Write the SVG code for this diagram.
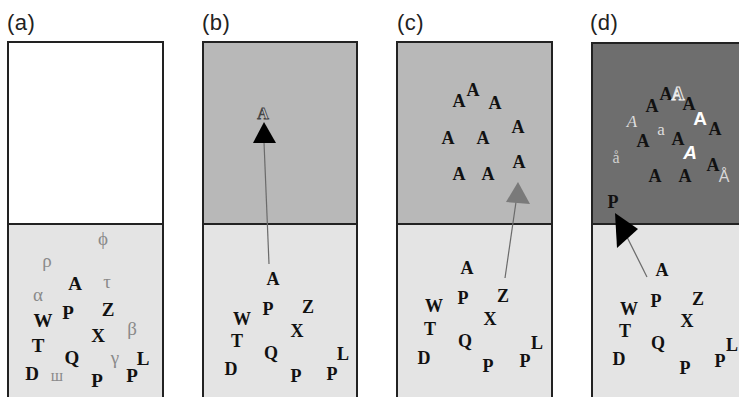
<svg xmlns="http://www.w3.org/2000/svg" width="739" height="397" viewBox="0 0 739 397">
<style>
.lbl{font-family:"Liberation Sans",Arial,sans-serif;font-size:22px;fill:#222;letter-spacing:0.5px}
.box{stroke:#222;stroke-width:2}
.b{font-family:"Liberation Serif","Times New Roman",serif;font-weight:bold;font-size:18px;fill:#111;text-anchor:middle}
.ba{font-size:19px}
.g{font-family:"Liberation Serif","Times New Roman",serif;font-size:19px;fill:#8a8a8a;text-anchor:middle}
.conn{stroke:#6a6a6a;stroke-width:1.2;fill:none}
</style>
<rect width="739" height="397" fill="#ffffff"/>

<g id="panel-a">
<text class="lbl" x="7" y="30">(a)</text>
<rect class="box" x="8" y="42" width="155" height="182" fill="#ffffff"/>
<rect class="box" x="8" y="224" width="155" height="176" fill="#e4e4e4"/>
<g class="g">
<text x="103" y="245">ϕ</text>
<text x="47" y="267">ρ</text>
<text x="107" y="288">τ</text>
<text x="38" y="301">α</text>
<text x="132" y="335">β</text>
<text x="115" y="364">γ</text>
<text x="57" y="381" font-size="16">ш</text>
</g>
<g class="b ba">
<text x="75" y="290">A</text>
<text x="43" y="327">W</text>
<text x="68" y="319">P</text>
<text x="108" y="316">Z</text>
<text x="98" y="342">X</text>
<text x="38" y="352">T</text>
<text x="72" y="364">Q</text>
<text x="143" y="365">L</text>
<text x="32" y="380">D</text>
<text x="97" y="387">P</text>
<text x="132" y="382">P</text>
</g>
</g>

<g id="panel-b">
<text class="lbl" x="202" y="30">(b)</text>
<rect class="box" x="203" y="42" width="154" height="182" fill="#b8b8b8"/>
<rect class="box" x="203" y="224" width="154" height="176" fill="#e4e4e4"/>
<text x="263" y="119" font-family="Liberation Serif,serif" font-weight="bold" font-size="16" text-anchor="middle" fill="#c8c8c8" stroke="#444" stroke-width="0.8">A</text>
<g class="b">
<text x="273" y="285">A</text>
<text x="268" y="315">P</text>
<text x="308" y="313">Z</text>
<text x="242" y="325">W</text>
<text x="297" y="337">X</text>
<text x="237" y="347">T</text>
<text x="271" y="359">Q</text>
<text x="343" y="360">L</text>
<text x="231" y="375">D</text>
<text x="296" y="382">P</text>
<text x="332" y="380">P</text>
</g>
</g>

<g id="panel-c">
<text class="lbl" x="397" y="30">(c)</text>
<rect class="box" x="397" y="42" width="155" height="182" fill="#b8b8b8"/>
<rect class="box" x="397" y="224" width="155" height="176" fill="#e4e4e4"/>
<g class="b">
<text x="459" y="107">A</text>
<text x="473" y="96">A</text>
<text x="495" y="109">A</text>
<text x="518" y="133">A</text>
<text x="448" y="144">A</text>
<text x="483" y="144">A</text>
<text x="519" y="168">A</text>
<text x="459" y="180">A</text>
<text x="488" y="180">A</text>
<text x="467" y="274">A</text>
<text x="463" y="304">P</text>
<text x="503" y="302">Z</text>
<text x="434" y="312">W</text>
<text x="490" y="325">X</text>
<text x="430" y="335">T</text>
<text x="465" y="347">Q</text>
<text x="537" y="349">L</text>
<text x="424" y="364">D</text>
<text x="488" y="372">P</text>
<text x="525" y="367">P</text>
</g>
</g>

<g id="panel-d">
<text class="lbl" x="590" y="30">(d)</text>
<rect class="box" x="592" y="43" width="155" height="181" fill="#6e6e6e"/>
<rect class="box" x="592" y="224" width="155" height="176" fill="#e4e4e4"/>
<g class="b">
<text x="652" y="112">A</text>
<text x="666" y="100">A</text>
<text x="689" y="110">A</text>
<text x="715" y="135">A</text>
<text x="643" y="147">A</text>
<text x="678" y="145">A</text>
<text x="713" y="171">A</text>
<text x="655" y="182">A</text>
<text x="685" y="182">A</text>
<text x="613" y="208">P</text>
</g>
<text x="678" y="100" font-family="Liberation Serif,serif" font-weight="bold" font-size="18" text-anchor="middle" fill="#6e6e6e" stroke="#f0f0f0" stroke-width="1">A</text>
<text x="700" y="125" font-family="Liberation Sans,sans-serif" font-weight="bold" font-size="19" text-anchor="middle" fill="#ffffff">A</text>
<text x="690" y="159" font-family="Liberation Sans,sans-serif" font-weight="bold" font-style="italic" font-size="19" text-anchor="middle" fill="#ffffff">A</text>
<text x="632" y="127" font-family="Liberation Serif,serif" font-style="italic" font-size="17" text-anchor="middle" fill="#dddddd">A</text>
<text x="661" y="135" font-family="Liberation Serif,serif" font-size="17" text-anchor="middle" fill="#dddddd">a</text>
<text x="616" y="163" font-family="Liberation Serif,serif" font-size="16" text-anchor="middle" fill="#d0d0d0">å</text>
<text x="724" y="182" font-family="Liberation Sans,sans-serif" font-size="16" text-anchor="middle" fill="#d8d8d8">Å</text>
<g class="b">
<text x="662" y="276">A</text>
<text x="656" y="307">P</text>
<text x="698" y="305">Z</text>
<text x="629" y="315">W</text>
<text x="687" y="327">X</text>
<text x="625" y="337">T</text>
<text x="658" y="349">Q</text>
<text x="732" y="351">L</text>
<text x="619" y="365">D</text>
<text x="685" y="374">P</text>
<text x="720" y="367">P</text>
</g>
</g>

<g id="connectors">
<line class="conn" x1="269" y1="264" x2="264" y2="142"/>
<polygon points="264,122 253,143 276,143" fill="#000000"/>
<line class="conn" x1="505" y1="278" x2="516" y2="202" stroke="#8a8a8a"/>
<polygon points="518,182 506,202 530,204" fill="#7a7a7a"/>
<line class="conn" x1="647" y1="277" x2="627" y2="237" stroke="#444"/>
<polygon points="615,213 638,229 617,248" fill="#000000"/>
</g>
</svg>
